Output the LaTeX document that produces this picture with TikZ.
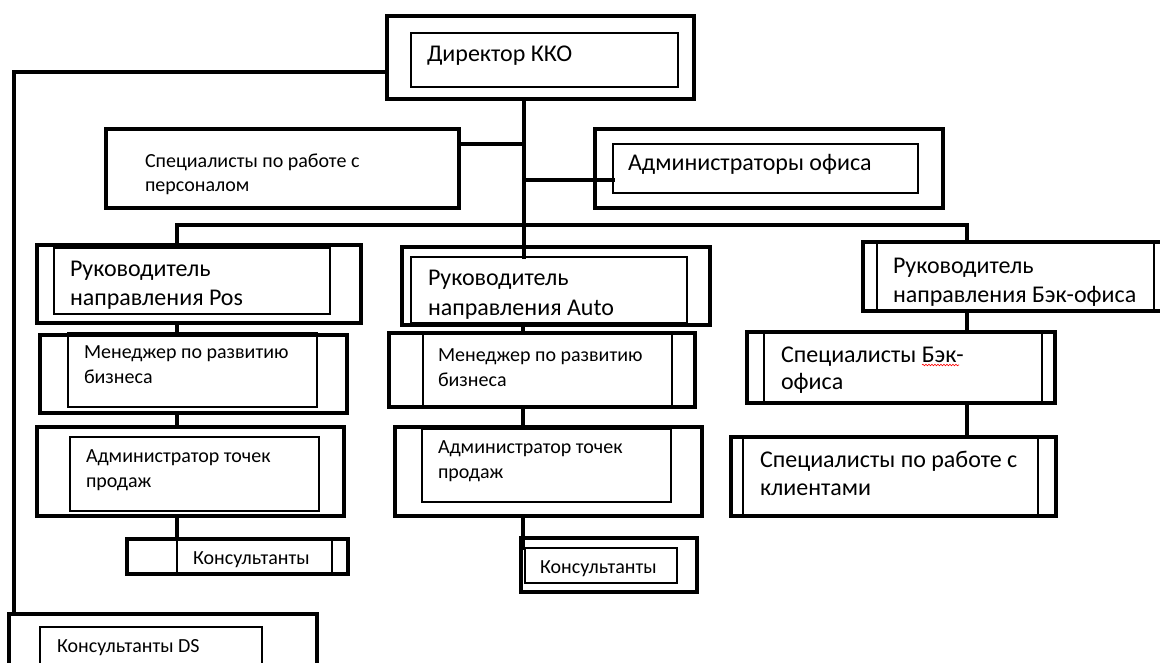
\documentclass[tikz,border=0pt]{standalone}
\usepackage{fontspec}
\setmainfont{Carlito}
\usetikzlibrary{decorations.pathmorphing}
\tikzset{
  obox/.style={draw=black, line width=4pt, inner sep=0pt, outer sep=0pt, fill=white},
  ibox/.style={draw=black, line width=1.2pt, inner sep=0pt, outer sep=0pt},
  conn/.style={draw=black, line width=4pt, line cap=rect},
  big/.style={font=\fontsize{24}{29}\selectfont},
  small/.style={font=\fontsize{20}{25}\selectfont},
  lbl/.style={anchor=base west, inner sep=0pt, outer sep=0pt, text=black}
}
\newcommand\ob[6]{\node[#6, minimum width={#4-#2}, minimum height={#5-#3}] (#1) at ({(#2+#4)/2},{-(#3+#5)/2}) {};}
\newcommand\tx[5]{\node[lbl,#4] (#1) at (#2,-#3) {#5};}
\begin{document}
\begin{tikzpicture}[x=1pt,y=1pt]
\useasboundingbox (0,0) rectangle (1160,-662);
\clip (0,0) rectangle (1160,-662);
\fill[white] (0,0) rectangle (1160,-662);

% ---------- helper coordinates ----------
\coordinate (trunk) at (524,0);
\coordinate (cP) at (177,0);
\coordinate (cA) at (523,0);
\coordinate (cB) at (967,0);
\coordinate (bus) at (0,-225);
\coordinate (jP) at (524,-144);
\coordinate (jA) at (524,-180);
\coordinate (Lh) at (0,-72);
\coordinate (Lx) at (14,0);

% ---------- boxes ----------
\ob{dir}{387}{16}{694}{99}{obox}
\ob{diri}{411}{33}{678}{87}{ibox}
\ob{spec}{106}{129}{459}{208}{obox}
\ob{adm}{595}{129}{943}{208}{obox}
\ob{admi}{613}{144}{918}{193}{ibox}
\ob{pos}{37}{245}{361}{323}{obox}
\ob{posi}{54}{248}{330}{314}{ibox}
\ob{auto}{402}{247}{710}{325}{obox}
\ob{autoi}{411}{257}{687}{323}{ibox}
\ob{bek}{863}{242}{1180}{311}{obox}
\ob{beki}{877}{242}{1154}{311}{ibox}
\ob{mgrp}{40}{335}{347}{413}{obox}
\ob{mgrpi}{68}{333}{317}{407}{ibox}
\ob{admp}{37}{427}{344}{516}{obox}
\ob{admpi}{70}{437}{319}{511}{ibox}
\ob{konsp}{127}{539}{348}{574}{obox}
\ob{konspi}{177}{540}{332}{574}{ibox}
\ob{mgra}{389}{333}{695}{407}{obox}
\ob{mgrai}{423}{333}{672}{407}{ibox}
\ob{adma}{395}{427}{702}{516}{obox}
\ob{admai}{422}{429}{671}{502}{ibox}
\ob{konsa}{521}{538}{697}{592}{obox}
\ob{konsai}{525}{548}{677}{583}{ibox}
\ob{ds}{9}{614}{317}{690}{obox}
\ob{dsi}{40}{627}{262}{690}{ibox}
\ob{spbek}{747}{332}{1055}{403}{obox}
\ob{spbeki}{764}{332}{1042}{403}{ibox}
\ob{kl}{731}{437}{1056}{516}{obox}
\ob{kli}{743}{437}{1038}{516}{ibox}

% ---------- connectors ----------
\draw[conn] (trunk |- dir.south) -- (trunk |- autoi.north);
\draw[conn] (jP) -- (jP -| spec.east);
\draw[conn] (jA) -- (jA -| admi.west);
\draw[conn] (cP |- pos.north) -- (cP |- bus) -- (cB |- bus) -- (cB |- bek.north);
\draw[conn] (dir.west |- Lh) -- (Lx |- Lh) -- (Lx |- ds.north);
\draw[conn] (cP |- pos.south) -- (cP |- mgrp.north);
\draw[conn] (cP |- mgrp.south) -- (cP |- admp.north);
\draw[conn] (cP |- admp.south) -- (cP |- konsp.north);
\draw[conn] (cA |- auto.south) -- (cA |- mgra.north);
\draw[conn] (cA |- mgra.south) -- (cA |- adma.north);
\draw[conn] (cA |- adma.south) -- (cA |- konsai.north);
\draw[conn] (cB |- bek.south) -- (cB |- spbek.north);
\draw[conn] (cB |- spbek.south) -- (cB |- kl.north);

% ---------- texts ----------
\tx{t-dir}{427}{61}{big}{Директор ККО}
\tx{t-spec1}{145}{167}{small}{Специалисты по работе с}
\tx{t-spec2}{145}{191}{small}{персоналом}
\tx{t-adm}{628}{170}{big}{Администраторы офиса}
\tx{t-pos1}{70}{276}{big}{Руководитель}
\tx{t-pos2}{70}{305}{big}{направления Pos}
\tx{t-auto1}{428}{285}{big}{Руководитель}
\tx{t-auto2}{428}{315}{big}{направления Auto}
\tx{t-bek1}{893}{273}{big}{Руководитель}
\tx{t-bek2}{893}{302}{big}{направления Бэк-офиса}
\tx{t-mgrp1}{84}{358}{small}{Менеджер по развитию}
\tx{t-mgrp2}{84}{383}{small}{бизнеса}
\tx{t-admp1}{86}{462}{small}{Администратор точек}
\tx{t-admp2}{86}{487}{small}{продаж}
\tx{t-konsp}{193}{564}{small}{Консультанты}
\tx{t-mgra1}{438}{361}{small}{Менеджер по развитию}
\tx{t-mgra2}{438}{386}{small}{бизнеса}
\tx{t-adma1}{438}{453}{small}{Администратор точек}
\tx{t-adma2}{438}{478}{small}{продаж}
\tx{t-konsa}{540}{573}{small}{Консультанты}
\tx{t-ds}{57}{652}{small}{Консультанты DS}
\tx{t-spbek1}{781}{362}{big}{Специалисты Бэк-}
\tx{t-spbek2}{781}{389}{big}{офиса}
\tx{t-kl1}{760}{467}{big}{Специалисты по работе с}
\tx{t-kl2}{760}{495}{big}{клиентами}

% spell-check underline
\draw[red, line width=0.6pt, decorate, decoration={snake, amplitude=0.8pt, segment length=3pt}]
  ([yshift=-3pt]t-spbek1.base west -| 922,0) -- ([yshift=-3pt]t-spbek1.base west -| 959,0);
\end{tikzpicture}
\end{document}
